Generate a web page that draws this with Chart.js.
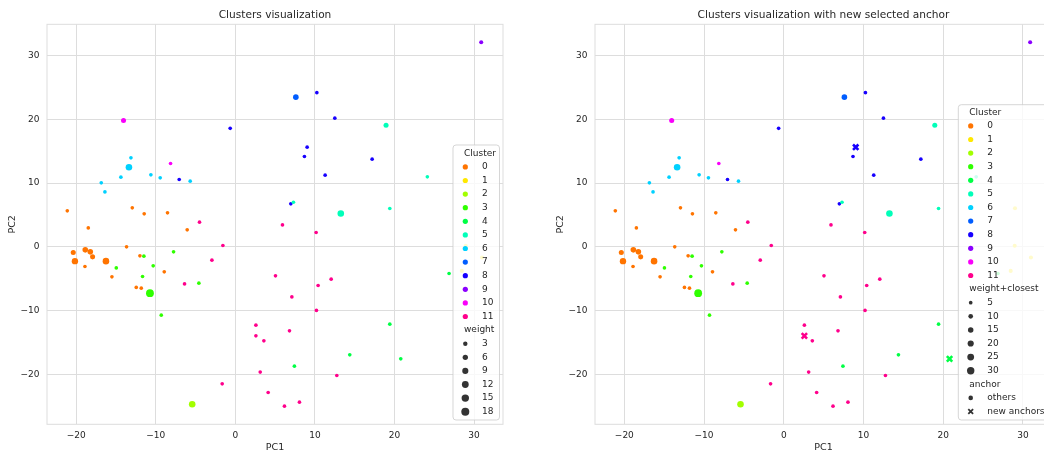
<!DOCTYPE html>
<html><head><meta charset="utf-8">
<script src="https://cdn.jsdelivr.net/npm/chart.js@4.4.1/dist/chart.umd.min.js"></script>
<style>
html,body{margin:0;padding:0;background:#fff;overflow:hidden;width:1044px;height:455px;}
.wrap{position:absolute;top:0;height:455px;}
</style></head><body>
<div class="wrap" style="left:0;width:520px"><canvas id="c1" width="520" height="455"></canvas></div>
<div class="wrap" style="left:548px;width:521px"><canvas id="c2" width="521" height="455"></canvas></div>
<script>
// ---------- data ----------
const clusterLabels = ['0','1','2','3','4','5','6','7','8','9','10','11'];
const clusterColors = ['#ff7400','#ffe800','#a2ff00','#2fff00','#00ff45','#00ffb9','#00d1ff','#005dff','#1700ff','#8b00ff','#f900fa','#ff008c'];
const xTicks = [-20,-10,0,10,20,30];
const yTicks = [-20,-10,0,10,20,30];
const weightLegend = [3,6,9,12,15,18];
const weightClosestLegend = [5,10,15,20,25,30];
const anchorLegend = ['others','new anchors'];

const pc1 = [
 -21.13,-12.96,-11.46,-8.53,-18.49,-6.06,-13.68,-20.38,-18.87,-18.24,-17.95,-20.17,-16.27,-18.91,-12.0,-8.94,-15.52,-12.46,-11.83,
 29.0,28.96,31.0,28.46,
 -5.43,
 -10.74,-11.5,-14.97,-10.33,-11.67,-7.77,-4.59,-9.32,
 19.41,14.38,20.79,26.86,7.42,
 18.94,24.13,7.3,13.25,19.41,
 -13.13,-13.38,-14.39,-10.62,-9.45,-5.68,-16.86,-16.4,
 7.6,
 10.24,-0.65,12.5,9.02,8.68,17.19,11.28,-7.06,6.97,
 30.9,
 -14.06,-8.15,
 -4.51,5.92,10.15,-1.57,-2.95,-6.39,5.04,10.4,12.04,7.1,10.19,2.58,6.8,2.58,3.58,3.12,12.75,-1.66,4.12,8.05,6.17
];
const pc2 = [
 5.65,6.12,5.18,5.34,2.98,2.67,0.0,-0.88,-0.47,-0.78,-1.57,-2.24,-2.24,-3.08,-1.41,-3.92,-4.71,-6.37,-6.48,
 6.07,0.16,-1.66,-3.77,
 -24.69,
 -7.27,-1.46,-3.3,-2.98,-4.65,-0.78,-5.7,-10.72,
 -12.13,-16.95,-17.58,-4.18,-18.72,
 19.1,10.99,7.0,5.24,6.02,
 13.97,12.51,10.94,11.3,10.83,10.31,10.05,8.63,
 23.5,
 24.2,18.6,20.2,15.65,14.18,13.76,11.25,10.58,6.75,
 32.1,
 19.84,13.09,
 3.88,3.45,2.26,0.22,-2.09,-5.81,-4.55,-6.06,-5.07,-7.85,-9.98,-12.29,-13.18,-13.97,-14.75,-19.66,-20.19,-21.5,-22.86,-24.37,-25.0
];
const cluster = [
 0,0,0,0,0,0,0,0,0,0,0,0,0,0,0,0,0,0,0,
 1,1,1,1,
 2,
 3,3,3,3,3,3,3,3,
 4,4,4,4,4,
 5,5,5,5,5,
 6,6,6,6,6,6,6,6,
 7,
 8,8,8,8,8,8,8,8,8,
 9,
 10,10,
 11,11,11,11,11,11,11,11,11,11,11,11,11,11,11,11,11,11,11,11,11
];
const weight = [
 1,1,1,1,1,1,1,5,7,7,5,10,11,1,1,1,1,1,1,
 2,2,2,2,
 11,
 17,1,1,1,1,1,1,1,
 1,1,1,1,1,
 5,1,1,11,1,
 1,11,1,1,1,1,1,1,
 7,
 1,1,1,1,1,1,1,1,1,
 2,
 5,1,
 1,1,1,1,1,1,1,1,1,1,1,1,1,1,1,1,1,1,1,1,1
];
const newAnchor = [
 0,0,0,0,0,0,0,0,0,0,0,0,0,0,0,0,0,0,0,
 0,0,0,0,
 0,
 0,0,0,0,0,0,0,0,
 0,0,1,0,0,
 0,0,0,0,0,
 0,0,0,0,0,0,0,0,
 0,
 0,0,0,1,0,0,0,0,0,
 0,
 0,0,
 0,0,0,0,0,0,0,0,0,0,0,0,0,1,0,0,0,0,0,0,0
];

// ---------- helpers ----------
const FONT = '"DejaVu Sans", sans-serif';
const TXT = '#262626';
const GRID = '#dddddd';
Chart.defaults.font.family = FONT;
const rad = w => Math.sqrt(2.61 + 0.744 * w);
const radWC = v => Math.sqrt(1.34 + 0.412 * v);
const fmt = v => String(v).replace('-', '\u2212');

function buildDatasets(withAnchors) {
  const ds = [];
  clusterLabels.forEach((lab, c) => {
    const pts = [];
    for (let i = 0; i < pc1.length; i++) {
      if (cluster[i] !== c) continue;
      if (withAnchors && newAnchor[i]) continue;
      pts.push({x: pc1[i], y: pc2[i], w: weight[i]});
    }
    ds.push({label: lab, data: pts, backgroundColor: clusterColors[c], borderColor: clusterColors[c],
      borderWidth: 0, pointStyle: 'circle', pointRadius: ctx => rad(ctx.raw ? ctx.raw.w : 1), pointHoverRadius: ctx => rad(ctx.raw ? ctx.raw.w : 1)});
  });
  if (withAnchors) {
    const pts = [], cols = [];
    for (let i = 0; i < pc1.length; i++) {
      if (!newAnchor[i]) continue;
      pts.push({x: pc1[i], y: pc2[i], w: weight[i]});
      cols.push(clusterColors[cluster[i]]);
    }
    ds.push({label: 'new anchors', data: pts, backgroundColor: cols, borderColor: cols,
      borderWidth: 2.6, pointStyle: 'crossRot', pointRadius: 3.8, pointHoverRadius: 3.8});
  }
  return ds;
}

function roundRect(ctx, x, y, w, h, r) {
  ctx.beginPath();
  ctx.moveTo(x + r, y); ctx.lineTo(x + w - r, y); ctx.arcTo(x + w, y, x + w, y + r, r);
  ctx.lineTo(x + w, y + h - r); ctx.arcTo(x + w, y + h, x + w - r, y + h, r);
  ctx.lineTo(x + r, y + h); ctx.arcTo(x, y + h, x, y + h - r, r);
  ctx.lineTo(x, y + r); ctx.arcTo(x, y, x + r, y, r); ctx.closePath();
}

const framePlugin = {
  id: 'frame',
  beforeDatasetsDraw(chart) {
    const a = chart.chartArea, ctx = chart.ctx;
    ctx.save(); ctx.strokeStyle = GRID; ctx.lineWidth = 1;
    ctx.strokeRect(a.left, a.top, a.right - a.left, a.bottom - a.top);
    ctx.restore();
  }
};

const legendPlugin = {
  id: 'sbLegend',
  afterDraw(chart, args, L) {
    if (!L || !L.rows) return;
    const ctx = chart.ctx;
    ctx.save();
    roundRect(ctx, L.x, L.y, L.w, L.h, 3);
    ctx.fillStyle = 'rgba(255,255,255,0.8)'; ctx.fill();
    ctx.strokeStyle = 'rgba(204,204,204,0.8)'; ctx.lineWidth = 1; ctx.stroke();
    ctx.font = '9px ' + FONT; ctx.textBaseline = 'middle';
    L.rows.forEach((row, k) => {
      const y = L.y0 + k * L.step;
      ctx.fillStyle = TXT; ctx.textAlign = 'left';
      if (row.type === 'title') { ctx.fillText(row.text, L.titleX, y); return; }
      if (row.type === 'dot') {
        ctx.beginPath(); ctx.arc(L.markerX, y, row.r, 0, Math.PI * 2);
        ctx.fillStyle = row.color; ctx.fill();
      } else if (row.type === 'x') {
        const s = 2.4;
        ctx.beginPath(); ctx.moveTo(L.markerX - s, y - s); ctx.lineTo(L.markerX + s, y + s);
        ctx.moveTo(L.markerX - s, y + s); ctx.lineTo(L.markerX + s, y - s);
        ctx.strokeStyle = row.color; ctx.lineWidth = 1.8; ctx.stroke();
      }
      ctx.fillStyle = TXT;
      ctx.fillText(row.text, L.textX, y);
    });
    ctx.restore();
  }
};

function options(title, legend) {
  return {
    responsive: false, animation: false, devicePixelRatio: 1,
    layout: {padding: {left: 0, right: 17, top: 0, bottom: 0}},
    plugins: {
      legend: {display: false}, tooltip: {enabled: false},
      title: {display: true, fullSize: false, text: title, color: TXT, font: {family: FONT, size: 10.6, weight: 'normal'}, padding: {top: 9.3, bottom: 2.3}},
      sbLegend: legend
    },
    scales: {
      x: {type: 'linear', min: -23.68, max: 33.64,
        afterBuildTicks: s => { s.ticks = xTicks.map(v => ({value: v})); },
        afterFit: s => { s.height = 30.7; },
        grid: {color: GRID, lineWidth: 1, drawTicks: false}, border: {display: false},
        ticks: {padding: 6, color: TXT, font: {family: FONT, size: 9}, callback: v => fmt(v)},
        title: {display: true, text: 'PC1', color: TXT, font: {family: FONT, size: 9.5}, padding: {top: 0, bottom: 1.6}}
      },
      y: {type: 'linear', min: -27.85, max: 34.93,
        afterBuildTicks: s => { s.ticks = yTicks.map(v => ({value: v})); },
        afterFit: s => { s.width = 47; },
        grid: {color: GRID, lineWidth: 1, drawTicks: false}, border: {display: false},
        ticks: {padding: 7.5, color: TXT, font: {family: FONT, size: 9}, callback: v => fmt(v)},
        title: {display: true, text: 'PC2', color: TXT, font: {family: FONT, size: 9.5}, padding: {top: 6.5, bottom: 0}}
      }
    }
  };
}

// legend rows
const rows1 = [{type: 'title', text: 'Cluster'}]
  .concat(clusterLabels.map((l, c) => ({type: 'dot', color: clusterColors[c], r: 2.6, text: l})))
  .concat([{type: 'title', text: 'weight'}])
  .concat(weightLegend.map(w => ({type: 'dot', color: '#333333', r: rad(w), text: String(w)})));
const rows2 = [{type: 'title', text: 'Cluster'}]
  .concat(clusterLabels.map((l, c) => ({type: 'dot', color: clusterColors[c], r: 2.6, text: l})))
  .concat([{type: 'title', text: 'weight+closest'}])
  .concat(weightClosestLegend.map(v => ({type: 'dot', color: '#333333', r: radWC(v), text: String(v)})))
  .concat([{type: 'title', text: 'anchor'},
           {type: 'dot', color: '#333333', r: 2.3, text: anchorLegend[0]},
           {type: 'x', color: '#333333', text: anchorLegend[1]}]);

new Chart(document.getElementById('c1'), {
  type: 'scatter',
  data: {datasets: buildDatasets(false)},
  options: options('Clusters visualization',
    {rows: rows1, x: 453, y: 145, w: 46.5, h: 275, titleX: 464, markerX: 465.3, textX: 482, y0: 153.3, step: 13.6}),
  plugins: [framePlugin, legendPlugin]
});
new Chart(document.getElementById('c2'), {
  type: 'scatter',
  data: {datasets: buildDatasets(true)},
  options: options('Clusters visualization with new selected anchor',
    {rows: rows2, x: 410.3, y: 104.7, w: 100, h: 315.3, titleX: 421.3, markerX: 422.7, textX: 439.3, y0: 112.3, step: 13.6}),
  plugins: [framePlugin, legendPlugin]
});
</script>
</body></html>
